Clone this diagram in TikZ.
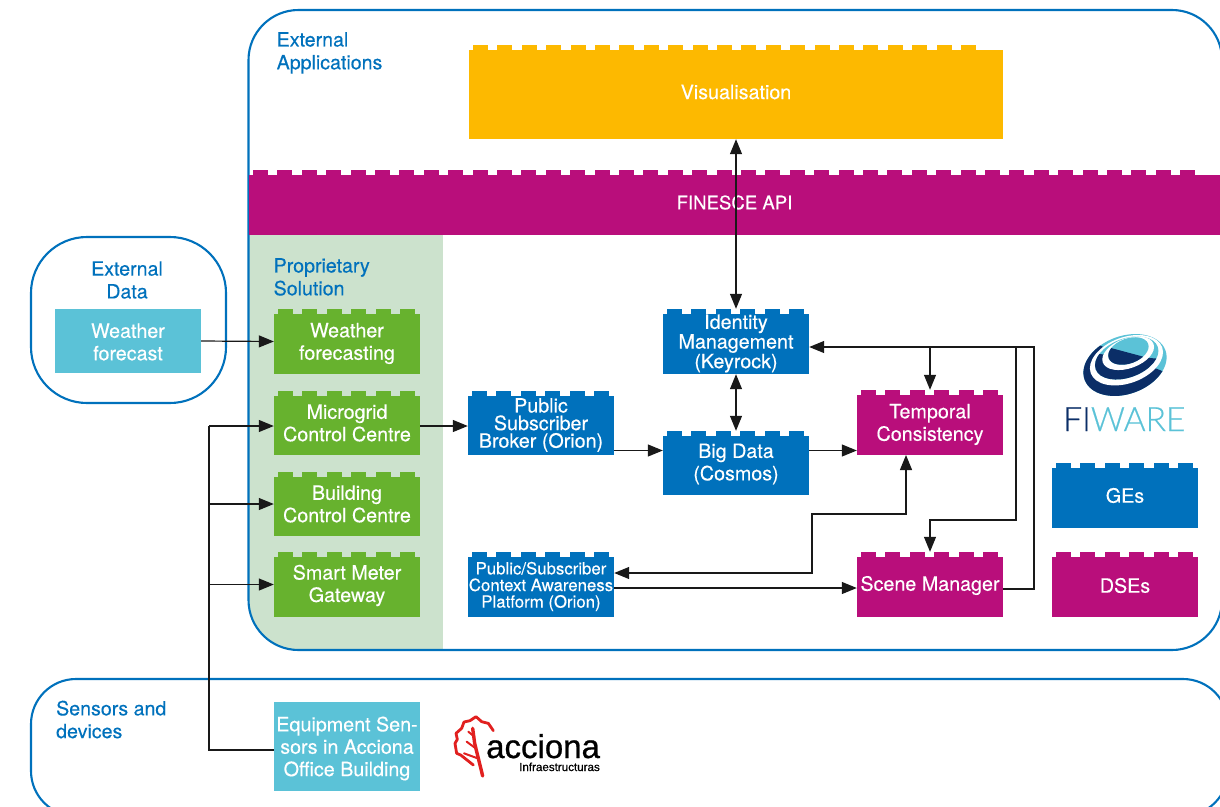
\documentclass[tikz,border=0pt]{standalone}
\usepackage{fontspec}
\setmainfont{TeX Gyre Heros}[FakeBold=0.3]
\newfontfamily\logofont{Lato Light}[FakeBold=0.5]
\newfontfamily\accfont{Liberation Sans}[FakeBold=0.8]
\usetikzlibrary{arrows.meta}
\definecolor{cblue}{HTML}{0071BC}
\definecolor{cmag}{HTML}{B90E7B}
\definecolor{corange}{HTML}{FDB900}
\definecolor{cgreen}{HTML}{67B22E}
\definecolor{clgreen}{HTML}{CCE2CD}
\definecolor{ccyan}{HTML}{5BC2D7}
\definecolor{cnavy}{HTML}{0B2E67}
\definecolor{cred}{HTML}{E1201F}
\newcommand{\lego}[8][]{% text style, name, x0 y0 x1 y1, colour, text
  \fill[#7] (#3,#4+5) rectangle (#5,#6);
  \pgfmathsetmacro{\lastT}{#5-18}
  \pgfmathsetmacro{\firstT}{#3+4}
  \pgfmathsetmacro{\secondT}{#3+28.4}
  \foreach \tx in {\firstT,\secondT,...,\lastT}{\fill[#7] (\tx,#4) rectangle (\tx+15,#4+5.5);}
  \node[inner sep=0pt,minimum width={(#5-#3)*1pt},minimum height={(#6-#4)*1pt},
        label={[blocktext,#1]center:{#8}}] (#2) at ({(#3+#5)/2},{(#4+#6)/2}) {};
}
\tikzset{
  blocktext/.style={inner sep=0pt,text=white,align=center,yshift=-2pt,font=\fontsize{19.7}{22.4}\selectfont},
  tightblock/.style={yshift=0pt,font=\fontsize{19.7}{17.6}\selectfont},
  smallblock/.style={yshift=0pt,font=\fontsize{16.8}{16.6}\selectfont},
  topblock/.style={yshift=2pt},
  narrowblock/.style={yshift=2pt,font=\fontsize{18.6}{22.4}\selectfont},
  raised/.style={yshift=1pt},
  raisedmore/.style={yshift=2pt},
  grouplabel/.style={inner sep=0pt,text=cblue,align=left,anchor=north west,font=\fontsize{19.6}{22.8}\selectfont},
  frameline/.style={draw=cblue,line width=2.1pt,rounded corners=50pt},
  conn/.style={draw=black!90,line width=1.2pt,-{Triangle[length=15pt,width=12pt]}},
  conn2/.style={draw=black!90,line width=1.2pt,{Triangle[length=15pt,width=12pt]}-{Triangle[length=15pt,width=12pt]}},
  plain/.style={draw=black!90,line width=1.2pt},
}
\begin{document}
\begin{tikzpicture}[x=1pt,y=-1pt]
\useasboundingbox (0,0) rectangle (1220,806);
% proprietary background, following the frame
\begin{scope}
  \clip[rounded corners=50pt] (248.5,10) rectangle (1270,650);
  \fill[clgreen] (249,235) rectangle (443,650);
\end{scope}
\draw[frameline] (248.5,10) rectangle (1222,650);
\draw[frameline,rounded corners=56pt] (31,237) rectangle (226,403);
\draw[frameline,rounded corners=45pt] (31,679) rectangle (1228,816);
\node[grouplabel] (lext) at (276.5,32) {External\\Applications};
\node[grouplabel,align=center,anchor=center] (ldata) at (127,280) {External\\Data};
\node[grouplabel] (lprop) at (273.5,258) {Proprietary\\Solution};
\node[grouplabel] (lsens) at (56,700.5) {Sensors and\\devices};

\lego[topblock]{vis}{469}{45}{1003}{139}{corange}{Visualisation}
\lego[narrowblock]{api}{249}{170}{1220}{235}{cmag}{FINESCE API}
\lego{wfc}{274}{309}{420}{374}{cgreen}{Weather\\forecasting}
\lego[raisedmore]{mcc}{274}{391}{420}{455}{cgreen}{Microgrid\\Control Centre}
\lego[raisedmore]{bcc}{274}{472}{420}{536}{cgreen}{Building\\Control Centre}
\lego[raised]{smg}{274}{552}{420}{617}{cgreen}{Smart Meter\\Gateway}
\lego[tightblock]{psb}{468}{391}{614}{455}{cblue}{Public\\Subscriber\\Broker (Orion)}
\lego[tightblock]{idm}{663}{309}{809}{374}{cblue}{Identity\\Management\\(Keyrock)}
\lego[raised]{bgd}{663}{431}{809}{495}{cblue}{Big Data\\(Cosmos)}
\lego{tcs}{857}{390}{1003}{455}{cmag}{Temporal\\Consistency}
\lego[raised]{scm}{857}{552}{1003}{617}{cmag}{Scene Manager}
\lego[smallblock]{ctx}{468}{552}{614}{617}{cblue}{Public/Subscriber\\Context Awareness\\Platform (Orion)}
\lego[raisedmore]{ges}{1052}{463}{1198}{528}{cblue}{GEs}
\lego[raised]{dse}{1052}{552}{1198}{617}{cmag}{DSEs}

\node[fill=ccyan,inner sep=0pt,minimum width=146pt,minimum height=64pt,label={[blocktext,raised]center:{Weather\\forecast}}] (wfo) at (128,341) {};
\node[fill=ccyan,inner sep=0pt,minimum width=146pt,minimum height=89pt,label={[blocktext]center:{Equipment Sen-\\sors in Acciona\\Office Building}}] (eqp) at (347,746.5) {};

% connectors
\draw[conn] (wfo.east) -- (wfc.west);
\draw[conn] (mcc.east |- 0,426) -- (psb.west |- 0,426);
\draw[conn] (psb.east |- 0,450.5) -- (bgd.west |- 0,450.5);
\draw[conn] (bgd.east |- 0,450.5) -- (tcs.west |- 0,450.5);
\draw[conn2] (vis.south) -- (idm.north);
\draw[conn2] (idm.south) -- (bgd.north);
\coordinate (busTop) at (209,426);
\coordinate (busLow) at (209,750);
\draw[plain] (eqp.west |- busLow) -- (busLow) -- (busTop);
\draw[conn] (busTop) -- (mcc.west |- busTop);
\draw[conn] (209,504) -- (bcc.west);
\draw[conn] (209,584.5) -- (smg.west);
\coordinate (retCorner) at (1034,347);
\draw[conn] (scm.east |- 0,589) -- (1034,589) -- (retCorner) -- (idm.east |- retCorner);
\draw[conn] (tcs.north |- retCorner) -- (tcs.north);
\draw[conn] (1016,347) -- (1016,520) -- (scm.north |- 0,520) -- (scm.north);
\draw[conn2] (ctx.east |- 0,573) -- (812,573) -- (812,514) -- (906,514) -- (906,455);
\draw[conn] (ctx.east |- 0,588) -- (scm.west |- 0,588);

% FIWARE logo
\begin{scope}[shift={(1125,365)},rotate=20]
  \begin{scope}
    \clip (0,0) ellipse[x radius=43pt,y radius=29pt];
    \fill[ccyan] (-60,-60) rectangle (60,60);
    \fill[cnavy] (-40,-48) -- (50,34) -- (50,60) -- (-60,60) -- (-60,-48) -- cycle;
  \end{scope}
  \fill[white] (3,-4) ellipse[x radius=38pt,y radius=23pt];
  \begin{scope}
    \clip (4,-6) ellipse[x radius=33pt,y radius=19.5pt];
    \fill[ccyan] (-60,-60) rectangle (60,60);
    \fill[cnavy] (-40,-28) -- (50,13) -- (50,60) -- (-60,60) -- (-60,-28) -- cycle;
  \end{scope}
  \fill[white] (7,-10) ellipse[x radius=27pt,y radius=15pt];
  \begin{scope}
    \clip (8,-12) ellipse[x radius=21pt,y radius=12.5pt];
    \fill[ccyan] (-60,-60) rectangle (60,60);
    \fill[cnavy] (-22,-31) -- (38,11) -- (38,40) -- (-22,40) -- cycle;
  \end{scope}
\end{scope}
\node[inner sep=0pt,anchor=base west,text=cnavy,font=\logofont\fontsize{33.5}{35}\selectfont] (fiw) at (1063,431) {FI\textcolor{ccyan}{WARE}};

% Acciona logo
\begin{scope}[shift={(440,700)},scale=1/3,draw=cred,line join=round,line cap=round]
  \draw[line width=2.8pt] (100,195) -- (62,165) -- (50,160) -- (45,130) -- (52,118) -- (48,100) -- (65,85) -- (72,66) -- (90,62) -- (108,50) -- (125,65) -- (145,70) -- (160,92);
  \draw[line width=3.4pt] (98,85) -- (104,130) -- (128,228);
  \draw[line width=2pt] (103,110) -- (85,95);
  \draw[line width=2pt] (107,145) -- (80,125);
  \draw[line width=2pt] (113,175) -- (72,160);
\end{scope}
\node[inner sep=0pt,anchor=base west,text=black,font=\accfont\fontsize{33}{30}\selectfont] (acc) at (486,758) {acciona};
\node[inner sep=0pt,anchor=base east,text=black,font=\accfont\fontsize{11.6}{10}\selectfont] (inf) at (600,771) {Infraestructuras};
\end{tikzpicture}
\end{document}
